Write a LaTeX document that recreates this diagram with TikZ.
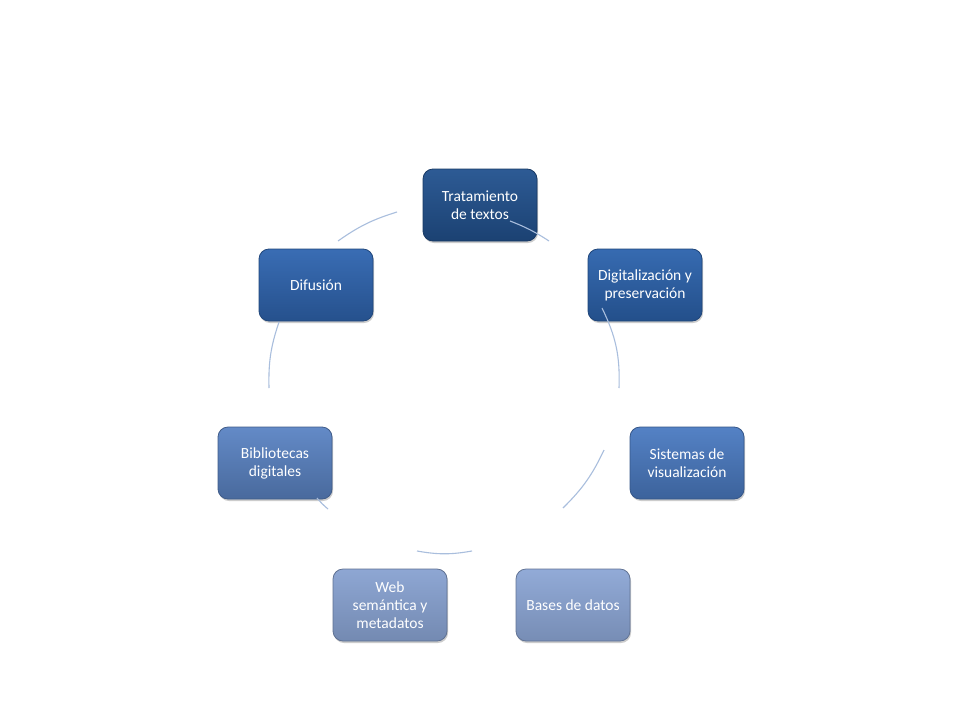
\documentclass[tikz,border=0pt]{standalone}
\usepackage{fontspec}
\setmainfont{Carlito}
\usetikzlibrary{shadows}
\definecolor{trat}{HTML}{22528F}
\definecolor{digi}{HTML}{2C63AD}
\definecolor{sist}{HTML}{4B7BC2}
\definecolor{base}{HTML}{8CA6D5}
\definecolor{webs}{HTML}{88A2D1}
\definecolor{bibl}{HTML}{5B84C4}
\definecolor{difu}{HTML}{2F65B0}
\definecolor{arc}{HTML}{A9BEDD}
\begin{document}
\begin{tikzpicture}[x=1pt,y=-1pt,font=\fontsize{15.5}{18}\selectfont]
  \tikzstyle{box}=[rounded corners=10pt,minimum width=114pt,minimum height=72pt,inner sep=1pt,
    text=white,align=center,line width=0.8pt,
    drop shadow={opacity=0.4,shadow xshift=1pt,shadow yshift=-2pt}]
  \tikzstyle{link}=[draw=arc,line width=1.1pt]
  \useasboundingbox[fill=white] (0,0) rectangle (960,720);

  \node(0)[box,top color=trat!95!white,bottom color=trat!80!black,draw=trat!70!black] at (480,205){Tratamiento\\de textos};
  \node(1)[box,top color=digi!95!white,bottom color=digi!80!black,draw=digi!70!black] at (645,285){Digitalización y\\preservación};
  \node(2)[box,top color=sist!95!white,bottom color=sist!80!black,draw=sist!70!black] at (687,463){Sistemas de\\visualización};
  \node(3)[box,top color=base!95!white,bottom color=base!85!black,draw=base!70!black] at (573,605){Bases de datos};
  \node(4)[box,top color=webs!95!white,bottom color=webs!85!black,draw=webs!70!black] at (390,605){Web\\semántica y\\metadatos};
  \node(5)[box,top color=bibl!95!white,bottom color=bibl!80!black,draw=bibl!70!black] at (275,463){Bibliotecas\\digitales};
  \node(6)[box,top color=difu!95!white,bottom color=difu!80!black,draw=difu!70!black] at (316,285){Difusión};

  \coordinate(a0) at (510,221);  \coordinate(b0) at (549,241);
  \coordinate(a1) at (602,308);  \coordinate(b1) at (619,388);
  \coordinate(a2) at (604,450);  \coordinate(b2) at (563,508);
  \coordinate(a3) at (472,551);  \coordinate(b3) at (417,551);
  \coordinate(a4) at (328,509);  \coordinate(b4) at (317,498);
  \coordinate(a5) at (269,388);  \coordinate(b5) at (279,322);
  \coordinate(a6) at (338,241);  \coordinate(b6) at (397,212);

  \draw[link] (a0) to[bend left=6] (b0);
  \draw[link] (a1) to[bend left=14] (b1);
  \draw[link] (a2) to[bend left=10] (b2);
  \draw[link] (a3) to[bend left=10] (b3);
  \draw[link] (a4) to[bend left=5] (b4);
  \draw[link] (a5) to[bend left=10] (b5);
  \draw[link] (a6) to[bend left=9] (b6);
\end{tikzpicture}
\end{document}
